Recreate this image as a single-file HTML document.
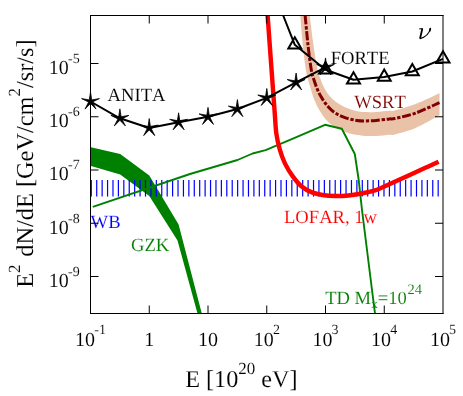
<!DOCTYPE html>
<html><head><meta charset="utf-8"><title>plot</title>
<style>
html,body{margin:0;padding:0;background:#fff;}
svg{display:block;will-change:transform;}
text{font-family:"Liberation Serif",serif;font-kerning:none;text-rendering:geometricPrecision;stroke:#fff;stroke-width:0.1px;}
</style></head><body>
<svg width="463" height="396" viewBox="0 0 463 396">
<rect x="0" y="0" width="463" height="396" fill="#fff"/>

<path d="M300.30,15.50 C300.72,20.42 301.87,35.92 302.80,45.00 C303.73,54.08 304.98,64.07 305.90,70.00 C306.82,75.93 307.47,77.37 308.30,80.60 C309.13,83.83 309.88,86.17 310.90,89.40 C311.92,92.63 312.93,96.45 314.40,100.00 C315.87,103.55 317.63,107.30 319.70,110.70 C321.77,114.10 324.13,117.60 326.80,120.40 C329.47,123.20 332.45,125.53 335.70,127.50 C338.95,129.47 342.77,130.95 346.30,132.20 C349.83,133.45 353.78,134.38 356.90,135.00 C360.02,135.62 361.82,135.73 365.00,135.90 C368.18,136.07 371.93,136.18 376.00,136.00 C380.07,135.82 386.27,135.07 389.40,134.80 C392.53,134.53 390.43,135.53 394.80,134.40 C399.17,133.27 408.15,131.18 415.60,128.00 C423.05,124.82 435.52,117.42 439.50,115.30 L439.50,93.20 C435.52,95.00 423.05,101.12 415.60,104.00 C408.15,106.88 399.17,109.37 394.80,110.50 C390.43,111.63 392.47,110.55 389.40,110.80 C386.33,111.05 380.47,111.78 376.40,112.00 C372.33,112.22 368.55,112.32 365.00,112.10 C361.45,111.88 358.52,111.53 355.10,110.70 C351.68,109.87 347.73,108.58 344.50,107.10 C341.27,105.62 338.35,103.87 335.70,101.80 C333.05,99.73 330.67,97.35 328.60,94.70 C326.53,92.05 324.78,88.85 323.30,85.90 C321.82,82.95 320.65,79.65 319.70,77.00 C318.75,74.35 318.63,75.33 317.60,70.00 C316.57,64.67 314.82,54.08 313.50,45.00 C312.18,35.92 310.33,20.42 309.70,15.50 Z" fill="#eac2a8"/>
<path d="M305.15,15.50 C305.62,20.42 306.98,35.92 308.00,45.00 C309.02,54.08 310.37,64.37 311.30,70.00 C312.23,75.63 312.63,75.70 313.60,78.80 C314.57,81.90 315.78,85.50 317.10,88.60 C318.42,91.70 319.73,94.47 321.50,97.40 C323.27,100.33 325.33,103.55 327.70,106.20 C330.07,108.85 332.60,111.32 335.70,113.30 C338.80,115.28 342.77,116.92 346.30,118.10 C349.83,119.28 353.78,119.93 356.90,120.40 C360.02,120.87 361.75,120.90 365.00,120.90 C368.25,120.90 372.33,120.73 376.40,120.40 C380.47,120.07 386.33,119.22 389.40,118.90 C392.47,118.58 390.43,119.47 394.80,118.50 C399.17,117.53 408.15,115.75 415.60,113.10 C423.05,110.45 435.52,104.35 439.50,102.60" fill="none" stroke="#800000" stroke-width="3.0" stroke-dasharray="9 1.8 3.3 1.7"/>
<polygon points="91.0,147.3 120.2,154.0 149.3,175.5 178.6,224.5 201.8,313.5 197.5,313.5 177.5,240.5 149.3,196.0 120.2,174.5 91.0,166.0" fill="#008000"/>
<line x1="91.30" y1="180" x2="91.30" y2="196.6" stroke="#0000ff" stroke-width="1.2"/>
<line x1="96.72" y1="180" x2="96.72" y2="196.6" stroke="#0000ff" stroke-width="1.2"/>
<line x1="102.14" y1="180" x2="102.14" y2="196.6" stroke="#0000ff" stroke-width="1.2"/>
<line x1="107.56" y1="180" x2="107.56" y2="196.6" stroke="#0000ff" stroke-width="1.2"/>
<line x1="112.98" y1="180" x2="112.98" y2="196.6" stroke="#0000ff" stroke-width="1.2"/>
<line x1="118.40" y1="180" x2="118.40" y2="196.6" stroke="#0000ff" stroke-width="1.2"/>
<line x1="123.82" y1="180" x2="123.82" y2="196.6" stroke="#0000ff" stroke-width="1.2"/>
<line x1="129.24" y1="180" x2="129.24" y2="196.6" stroke="#0000ff" stroke-width="1.2"/>
<line x1="134.66" y1="180" x2="134.66" y2="196.6" stroke="#0000ff" stroke-width="1.2"/>
<line x1="140.08" y1="180" x2="140.08" y2="196.6" stroke="#0000ff" stroke-width="1.2"/>
<line x1="145.50" y1="180" x2="145.50" y2="196.6" stroke="#0000ff" stroke-width="1.2"/>
<line x1="150.92" y1="180" x2="150.92" y2="196.6" stroke="#0000ff" stroke-width="1.2"/>
<line x1="156.34" y1="180" x2="156.34" y2="196.6" stroke="#0000ff" stroke-width="1.2"/>
<line x1="161.76" y1="180" x2="161.76" y2="196.6" stroke="#0000ff" stroke-width="1.2"/>
<line x1="167.18" y1="180" x2="167.18" y2="196.6" stroke="#0000ff" stroke-width="1.2"/>
<line x1="172.60" y1="180" x2="172.60" y2="196.6" stroke="#0000ff" stroke-width="1.2"/>
<line x1="178.02" y1="180" x2="178.02" y2="196.6" stroke="#0000ff" stroke-width="1.2"/>
<line x1="183.44" y1="180" x2="183.44" y2="196.6" stroke="#0000ff" stroke-width="1.2"/>
<line x1="188.86" y1="180" x2="188.86" y2="196.6" stroke="#0000ff" stroke-width="1.2"/>
<line x1="194.28" y1="180" x2="194.28" y2="196.6" stroke="#0000ff" stroke-width="1.2"/>
<line x1="199.70" y1="180" x2="199.70" y2="196.6" stroke="#0000ff" stroke-width="1.2"/>
<line x1="205.12" y1="180" x2="205.12" y2="196.6" stroke="#0000ff" stroke-width="1.2"/>
<line x1="210.54" y1="180" x2="210.54" y2="196.6" stroke="#0000ff" stroke-width="1.2"/>
<line x1="215.96" y1="180" x2="215.96" y2="196.6" stroke="#0000ff" stroke-width="1.2"/>
<line x1="221.38" y1="180" x2="221.38" y2="196.6" stroke="#0000ff" stroke-width="1.2"/>
<line x1="226.80" y1="180" x2="226.80" y2="196.6" stroke="#0000ff" stroke-width="1.2"/>
<line x1="232.22" y1="180" x2="232.22" y2="196.6" stroke="#0000ff" stroke-width="1.2"/>
<line x1="237.64" y1="180" x2="237.64" y2="196.6" stroke="#0000ff" stroke-width="1.2"/>
<line x1="243.06" y1="180" x2="243.06" y2="196.6" stroke="#0000ff" stroke-width="1.2"/>
<line x1="248.48" y1="180" x2="248.48" y2="196.6" stroke="#0000ff" stroke-width="1.2"/>
<line x1="253.90" y1="180" x2="253.90" y2="196.6" stroke="#0000ff" stroke-width="1.2"/>
<line x1="259.32" y1="180" x2="259.32" y2="196.6" stroke="#0000ff" stroke-width="1.2"/>
<line x1="264.74" y1="180" x2="264.74" y2="196.6" stroke="#0000ff" stroke-width="1.2"/>
<line x1="270.16" y1="180" x2="270.16" y2="196.6" stroke="#0000ff" stroke-width="1.2"/>
<line x1="275.58" y1="180" x2="275.58" y2="196.6" stroke="#0000ff" stroke-width="1.2"/>
<line x1="281.00" y1="180" x2="281.00" y2="196.6" stroke="#0000ff" stroke-width="1.2"/>
<line x1="286.42" y1="180" x2="286.42" y2="196.6" stroke="#0000ff" stroke-width="1.2"/>
<line x1="291.84" y1="180" x2="291.84" y2="196.6" stroke="#0000ff" stroke-width="1.2"/>
<line x1="297.26" y1="180" x2="297.26" y2="196.6" stroke="#0000ff" stroke-width="1.2"/>
<line x1="302.68" y1="180" x2="302.68" y2="196.6" stroke="#0000ff" stroke-width="1.2"/>
<line x1="308.10" y1="180" x2="308.10" y2="196.6" stroke="#0000ff" stroke-width="1.2"/>
<line x1="313.52" y1="180" x2="313.52" y2="196.6" stroke="#0000ff" stroke-width="1.2"/>
<line x1="318.94" y1="180" x2="318.94" y2="196.6" stroke="#0000ff" stroke-width="1.2"/>
<line x1="324.36" y1="180" x2="324.36" y2="196.6" stroke="#0000ff" stroke-width="1.2"/>
<line x1="329.78" y1="180" x2="329.78" y2="196.6" stroke="#0000ff" stroke-width="1.2"/>
<line x1="335.20" y1="180" x2="335.20" y2="196.6" stroke="#0000ff" stroke-width="1.2"/>
<line x1="340.62" y1="180" x2="340.62" y2="196.6" stroke="#0000ff" stroke-width="1.2"/>
<line x1="346.04" y1="180" x2="346.04" y2="196.6" stroke="#0000ff" stroke-width="1.2"/>
<line x1="351.46" y1="180" x2="351.46" y2="196.6" stroke="#0000ff" stroke-width="1.2"/>
<line x1="356.88" y1="180" x2="356.88" y2="196.6" stroke="#0000ff" stroke-width="1.2"/>
<line x1="362.30" y1="180" x2="362.30" y2="196.6" stroke="#0000ff" stroke-width="1.2"/>
<line x1="367.72" y1="180" x2="367.72" y2="196.6" stroke="#0000ff" stroke-width="1.2"/>
<line x1="373.14" y1="180" x2="373.14" y2="196.6" stroke="#0000ff" stroke-width="1.2"/>
<line x1="378.56" y1="180" x2="378.56" y2="196.6" stroke="#0000ff" stroke-width="1.2"/>
<line x1="383.98" y1="180" x2="383.98" y2="196.6" stroke="#0000ff" stroke-width="1.2"/>
<line x1="389.40" y1="180" x2="389.40" y2="196.6" stroke="#0000ff" stroke-width="1.2"/>
<line x1="394.82" y1="180" x2="394.82" y2="196.6" stroke="#0000ff" stroke-width="1.2"/>
<line x1="400.24" y1="180" x2="400.24" y2="196.6" stroke="#0000ff" stroke-width="1.2"/>
<line x1="405.66" y1="180" x2="405.66" y2="196.6" stroke="#0000ff" stroke-width="1.2"/>
<line x1="411.08" y1="180" x2="411.08" y2="196.6" stroke="#0000ff" stroke-width="1.2"/>
<line x1="416.50" y1="180" x2="416.50" y2="196.6" stroke="#0000ff" stroke-width="1.2"/>
<line x1="421.92" y1="180" x2="421.92" y2="196.6" stroke="#0000ff" stroke-width="1.2"/>
<line x1="427.34" y1="180" x2="427.34" y2="196.6" stroke="#0000ff" stroke-width="1.2"/>
<line x1="432.76" y1="180" x2="432.76" y2="196.6" stroke="#0000ff" stroke-width="1.2"/>
<line x1="438.18" y1="180" x2="438.18" y2="196.6" stroke="#0000ff" stroke-width="1.2"/>
<text x="107.6" y="100.7" font-size="18.6" fill="#000" text-anchor="start" >ANITA</text>
<text x="330.7" y="64.0" font-size="18.6" fill="#000" text-anchor="start" >FORTE</text>
<text x="354.2" y="108.2" font-size="18.6" fill="#800000" text-anchor="start" >WSRT</text>
<text x="284" y="222.6" font-size="18.6" fill="#ff0000" text-anchor="start" >LOFAR, 1w</text>
<text x="90.6" y="228.3" font-size="18.6" fill="#0000ff" text-anchor="start" >WB</text>
<text x="131" y="250.6" font-size="18.6" fill="#008000" text-anchor="start" >GZK</text>
<text x="325.2" y="303.5" font-size="18.6" fill="#008000" text-anchor="start" >TD M<tspan font-size="13" dy="4">x</tspan><tspan dy="-4">=10</tspan><tspan font-size="14.5" dy="-9.8" dx="0.8">24</tspan></text>
<polyline points="92.8,206.8 190.0,174.0 237.5,160.0 252.6,153.5 265.6,150.2 290.0,139.9 325.0,124.8 341.8,128.7 354.8,154.0 358.7,180.0 362.0,210.0 372.0,290.0 375.0,313.5" fill="none" stroke="#008000" stroke-width="1.9" stroke-linejoin="round"/>
<path d="M267.60,15.50 C268.75,31.25 273.05,90.37 274.50,110.00 C275.95,129.63 275.45,126.82 276.30,133.30 C277.15,139.78 278.18,143.93 279.60,148.90 C281.02,153.87 282.63,158.57 284.80,163.10 C286.97,167.63 289.78,172.20 292.60,176.10 C295.42,180.00 298.47,183.78 301.70,186.50 C304.93,189.22 308.55,190.98 312.00,192.40 C315.45,193.82 318.50,194.40 322.40,195.00 C326.30,195.60 331.08,195.92 335.40,196.00 C339.72,196.08 343.98,195.92 348.30,195.50 C352.62,195.08 356.85,194.35 361.30,193.50 C365.75,192.65 370.17,192.03 375.00,190.40 C379.83,188.77 384.88,186.12 390.30,183.70 C395.72,181.28 401.75,178.50 407.50,175.90 C413.25,173.30 419.62,170.47 424.80,168.10 C429.98,165.73 436.30,162.77 438.60,161.70" fill="none" stroke="#ff0000" stroke-width="4.4" stroke-linejoin="round"/>
<polyline points="90.5,101.5 119.9,118.3 149.2,128.0 178.6,122.2 208.0,116.8 237.4,109.0 266.8,97.9 296.1,82.4 325.5,67.3" fill="none" stroke="#000" stroke-width="2.0" stroke-linejoin="round"/>
<polygon points="90.5,92.1 91.7,99.9 99.4,98.6 92.4,102.1 96.0,109.1 90.5,103.5 85.0,109.1 88.6,102.1 81.6,98.6 89.3,99.9" fill="#000" stroke="#000" stroke-width="0.8" stroke-linejoin="miter"/>
<polygon points="119.9,108.9 121.1,116.7 128.8,115.4 121.8,118.9 125.4,125.9 119.9,120.3 114.3,125.9 118.0,118.9 110.9,115.4 118.7,116.7" fill="#000" stroke="#000" stroke-width="0.8" stroke-linejoin="miter"/>
<polygon points="149.2,118.6 150.4,126.4 158.2,125.1 151.2,128.6 154.8,135.6 149.2,130.0 143.7,135.6 147.3,128.6 140.3,125.1 148.1,126.4" fill="#000" stroke="#000" stroke-width="0.8" stroke-linejoin="miter"/>
<polygon points="178.6,112.8 179.8,120.6 187.6,119.3 180.5,122.8 184.2,129.8 178.6,124.2 173.1,129.8 176.7,122.8 169.7,119.3 177.4,120.6" fill="#000" stroke="#000" stroke-width="0.8" stroke-linejoin="miter"/>
<polygon points="208.0,107.4 209.2,115.2 216.9,113.9 209.9,117.4 213.5,124.4 208.0,118.8 202.5,124.4 206.1,117.4 199.1,113.9 206.8,115.2" fill="#000" stroke="#000" stroke-width="0.8" stroke-linejoin="miter"/>
<polygon points="237.4,99.6 238.6,107.4 246.3,106.1 239.3,109.6 242.9,116.6 237.4,111.0 231.8,116.6 235.5,109.6 228.4,106.1 236.2,107.4" fill="#000" stroke="#000" stroke-width="0.8" stroke-linejoin="miter"/>
<polygon points="266.8,88.5 267.9,96.3 275.7,95.0 268.7,98.5 272.3,105.5 266.8,99.9 261.2,105.5 264.8,98.5 257.8,95.0 265.6,96.3" fill="#000" stroke="#000" stroke-width="0.8" stroke-linejoin="miter"/>
<polygon points="296.1,73.0 297.3,80.8 305.1,79.5 298.0,83.0 301.7,90.0 296.1,84.4 290.6,90.0 294.2,83.0 287.2,79.5 294.9,80.8" fill="#000" stroke="#000" stroke-width="0.8" stroke-linejoin="miter"/>
<polygon points="325.5,57.9 326.7,65.7 334.4,64.4 327.4,67.9 331.0,74.9 325.5,69.3 320.0,74.9 323.6,67.9 316.6,64.4 324.3,65.7" fill="#000" stroke="#000" stroke-width="0.8" stroke-linejoin="miter"/>
<polyline points="283.2,15.5 294.8,44.8 325.5,69.8 353.5,79.8 384.2,77.0 412.3,71.5 443.0,58.8" fill="none" stroke="#000" stroke-width="2.0" stroke-linejoin="round"/>
<polygon points="294.8,37.3 301.3,48.5 288.3,48.5" fill="none" stroke="#000" stroke-width="2.0" stroke-linejoin="miter"/>
<polygon points="325.5,62.3 332.0,73.5 319.0,73.5" fill="none" stroke="#000" stroke-width="2.0" stroke-linejoin="miter"/>
<polygon points="353.5,72.3 360.0,83.5 347.0,83.5" fill="none" stroke="#000" stroke-width="2.0" stroke-linejoin="miter"/>
<polygon points="384.2,69.5 390.7,80.8 377.8,80.8" fill="none" stroke="#000" stroke-width="2.0" stroke-linejoin="miter"/>
<polygon points="412.3,64.0 418.8,75.2 405.8,75.2" fill="none" stroke="#000" stroke-width="2.0" stroke-linejoin="miter"/>
<polygon points="443.0,51.3 449.5,62.5 436.5,62.5" fill="none" stroke="#000" stroke-width="2.0" stroke-linejoin="miter"/>
<g stroke="#000" stroke-width="1" fill="none">
<line x1="90.5" y1="15.0" x2="90.5" y2="314.0"/>
<line x1="443.0" y1="15.0" x2="443.0" y2="314.0"/>
<line x1="90.5" y1="15.5" x2="443.5" y2="15.5"/>
<line x1="90.5" y1="313.5" x2="443.5" y2="313.5"/>
<line x1="149.25" y1="15.5" x2="149.25" y2="23.5"/>
<line x1="149.25" y1="313.5" x2="149.25" y2="305.5"/>
<line x1="208.00" y1="15.5" x2="208.00" y2="23.5"/>
<line x1="208.00" y1="313.5" x2="208.00" y2="305.5"/>
<line x1="266.75" y1="15.5" x2="266.75" y2="23.5"/>
<line x1="266.75" y1="313.5" x2="266.75" y2="305.5"/>
<line x1="325.50" y1="15.5" x2="325.50" y2="23.5"/>
<line x1="325.50" y1="313.5" x2="325.50" y2="305.5"/>
<line x1="384.25" y1="15.5" x2="384.25" y2="23.5"/>
<line x1="384.25" y1="313.5" x2="384.25" y2="305.5"/>
<line x1="90.5" y1="276.50" x2="98.5" y2="276.50"/>
<line x1="443.0" y1="276.50" x2="435.0" y2="276.50"/>
<line x1="90.5" y1="223.25" x2="98.5" y2="223.25"/>
<line x1="443.0" y1="223.25" x2="435.0" y2="223.25"/>
<line x1="90.5" y1="170.00" x2="98.5" y2="170.00"/>
<line x1="443.0" y1="170.00" x2="435.0" y2="170.00"/>
<line x1="90.5" y1="116.75" x2="98.5" y2="116.75"/>
<line x1="443.0" y1="116.75" x2="435.0" y2="116.75"/>
<line x1="90.5" y1="63.50" x2="98.5" y2="63.50"/>
<line x1="443.0" y1="63.50" x2="435.0" y2="63.50"/>
</g>
<text x="90.5" y="345.5" font-size="20" fill="#000" text-anchor="middle" >10<tspan font-size="14" dy="-11.1" dx="-0.8">-1</tspan></text>
<text x="149.2" y="345.5" font-size="20" fill="#000" text-anchor="middle" >1</text>
<text x="208.0" y="345.5" font-size="20" fill="#000" text-anchor="middle" >10</text>
<text x="266.8" y="345.5" font-size="20" fill="#000" text-anchor="middle" >10<tspan font-size="14" dy="-11.1" dx="-0.8">2</tspan></text>
<text x="325.5" y="345.5" font-size="20" fill="#000" text-anchor="middle" >10<tspan font-size="14" dy="-11.1" dx="-0.8">3</tspan></text>
<text x="384.2" y="345.5" font-size="20" fill="#000" text-anchor="middle" >10<tspan font-size="14" dy="-11.1" dx="-0.8">4</tspan></text>
<text x="443.0" y="345.5" font-size="20" fill="#000" text-anchor="middle" >10<tspan font-size="14" dy="-11.1" dx="-0.8">5</tspan></text>
<text x="79.7" y="286.8" font-size="20" fill="#000" text-anchor="end" >10<tspan font-size="14" dy="-11.1" dx="-0.8">-9</tspan></text>
<text x="79.7" y="233.6" font-size="20" fill="#000" text-anchor="end" >10<tspan font-size="14" dy="-11.1" dx="-0.8">-8</tspan></text>
<text x="79.7" y="180.3" font-size="20" fill="#000" text-anchor="end" >10<tspan font-size="14" dy="-11.1" dx="-0.8">-7</tspan></text>
<text x="79.7" y="127.0" font-size="20" fill="#000" text-anchor="end" >10<tspan font-size="14" dy="-11.1" dx="-0.8">-6</tspan></text>
<text x="79.7" y="73.8" font-size="20" fill="#000" text-anchor="end" >10<tspan font-size="14" dy="-11.1" dx="-0.8">-5</tspan></text>
<text x="185.2" y="387.4" font-size="24.2" fill="#000" text-anchor="start" >E [10<tspan font-size="17" dy="-13.8">20</tspan><tspan dy="13.8"> eV]</tspan></text>
<text transform="translate(33.4,287.8) rotate(-90)" font-size="24.35" fill="#000">E<tspan font-size="17" dy="-13.8">2</tspan><tspan dy="13.8" dx="1.6"> dN/dE [GeV/cm</tspan><tspan font-size="17" dy="-13.8">2</tspan><tspan dy="13.8">/sr/s]</tspan></text>
<g fill="none" stroke="#000" stroke-linecap="round"><path d="M419.6,28.9 L422.4,28.6" stroke-width="1.0"/><path d="M422.3,28.8 L420.1,38.3" stroke-width="1.8" stroke-linecap="butt"/><path d="M420.0,38.6 C425,37.3 429.3,33.5 430.3,28.7" stroke-width="1.1"/><path d="M430.3,28.7 L429.8,30.8" stroke-width="1.7"/></g>
</svg></body></html>
